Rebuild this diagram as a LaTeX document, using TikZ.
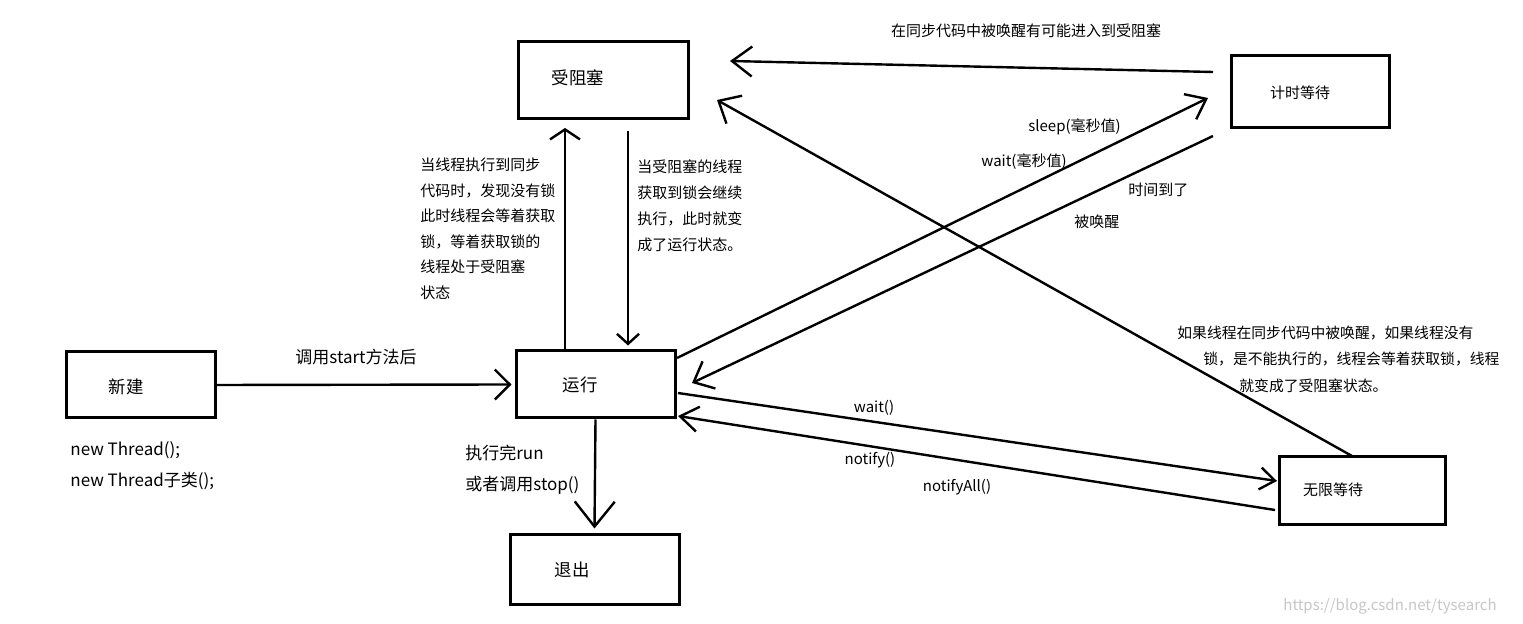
\documentclass[tikz,border=0pt]{standalone}
\usepackage{fontspec}
\setmainfont{Noto Sans CJK SC}
\usetikzlibrary{arrows.meta,calc}
\begin{document}
\begin{tikzpicture}[x=0.5pt,y=-0.5pt,
  box/.style={draw,line width=1.5pt,inner sep=0pt},
  big/.style={font=\fontsize{8.7pt}{10pt}\selectfont,inner sep=0pt},
  mid/.style={font=\fontsize{8.5pt}{10pt}\selectfont,inner sep=0pt},
  small/.style={font=\fontsize{7.5pt}{9pt}\selectfont,inner sep=0pt},
  note/.style={font=\fontsize{7.5pt}{12.75pt}\selectfont,inner sep=0pt,align=left,anchor=north west},
  conn/.style={line width=1.2pt},
  tip/.style 2 args={-{Straight Barb[length=#1,width=#2]}},
]
\useasboundingbox (0,0) rectangle (1523,624);
\fill[white] (0,0) rectangle (1523,624);

% boxes
\node[box,minimum width=85pt,minimum height=38.5pt] (blocked) at (603,80.5) {};
\node[box,minimum width=79pt,minimum height=36pt] (timed) at (1310,92) {};
\node[box,minimum width=74.5pt,minimum height=33pt] (new) at (140.5,385) {};
\node[box,minimum width=79.5pt,minimum height=33.5pt] (run) at (595.5,384.5) {};
\node[box,minimum width=83pt,minimum height=34pt] (waiting) at (1362,491) {};
\node[box,minimum width=84.5pt,minimum height=35pt] (exit) at (594.5,570) {};

% box labels
\node[big] (tblocked) at (578,78) {受阻塞};
\node[small] (ttimed) at (1300,93) {计时等待};
\node[big] (tnew) at (126,387) {新建};
\node[big] (trun) at (580,385) {运行};
\node[small] (twaiting) at (1333,490) {无限等待};
\node[big] (texit) at (572,570) {退出};

% helper coordinates
\coordinate (upT) at (565,128);
\coordinate (dnS) at (628,131);
\coordinate (s4) at (677,358);
\coordinate (t4) at (1208,98);
\coordinate (s5) at (1213,136);
\coordinate (t5) at (692,383);
\coordinate (s6) at (1352,456);
\coordinate (t6) at (717,100);
\coordinate (s7) at (1213,72);
\coordinate (t7) at (730,61);
\coordinate (s8) at (678,393);
\coordinate (t8) at (1277,481);
\coordinate (s9) at (1275,510);
\coordinate (t9) at (678,416);

% connectors
\draw[conn,tip={7.5pt}{15pt}] (new.east) -- ([xshift=-1.5pt]run.west);
\draw[conn,tip={5pt}{15pt}] (run.north -| upT) -- (upT);
\draw[conn,tip={5pt}{11pt}] (dnS) -- ([yshift=2pt]dnS |- run.north);
\draw[conn,tip={9pt}{14pt}] (s4) -- (t4);
\draw[conn,tip={8.5pt}{15pt}] (s5) -- (t5);
\draw[conn,tip={9pt}{16pt}] (s6) -- (t6);
\draw[conn,tip={10pt}{15pt}] (s7) -- (t7);
\draw[conn,tip={7.5pt}{11pt}] (s8) -- (t8);
\draw[conn,tip={9pt}{12.5pt}] (s9) -- (t9);
\draw[conn,tip={12.5pt}{20pt}] (run.south) -- ([yshift=2.5pt]exit.north);

% texts
\node[small] (ttop) at (1026,31) {在同步代码中被唤醒有可能进入到受阻塞};
\node[note] (nleft) at (420,157.5) {当线程执行到同步\\代码时，发现没有锁\\此时线程会等着获取\\锁，等着获取锁的\\线程处于受阻塞\\状态};
\node[note,font=\fontsize{7.5pt}{13pt}\selectfont] (nright) at (637,159.5) {当受阻塞的线程\\获取到锁会继续\\执行，此时就变\\成了运行状态。};
\node[note,font=\fontsize{7.4pt}{13.25pt}\selectfont] (nwait) at (1177,325.5) {如果线程在同步代码中被唤醒，如果线程没有\\\hspace*{13pt}锁，是不能执行的，线程会等着获取锁，线程\\\hspace*{31pt}就变成了受阻塞状态。};
\node[small,anchor=west] (lsleep) at (1028,127) {sleep(毫秒值)};
\node[small,anchor=west] (lwaitms) at (981,162) {wait(毫秒值)};
\node[small,anchor=west] (ltime) at (1128,190) {时间到了};
\node[small,anchor=west] (lwoken) at (1074,222) {被唤醒};
\node[mid] (lstart) at (356,357) {调用start方法后};
\node[mid,anchor=west] (lnew1) at (70,450) {new Thread();};
\node[mid,anchor=west] (lnew2) at (70,481) {new Thread子类();};
\node[mid,anchor=west] (lrun1) at (465,453) {执行完run};
\node[mid,anchor=west] (lrun2) at (465,485) {或者调用stop()};
\node[small] (lwait) at (874,408) {wait()};
\node[small] (lnotify) at (870,460) {notify()};
\node[small] (lnotifyall) at (957,487) {notifyAll()};
\node[small,anchor=west,text=black!22] (wm) at (1283,606) {https://blog.csdn.net/tysearch};
\end{tikzpicture}
\end{document}
